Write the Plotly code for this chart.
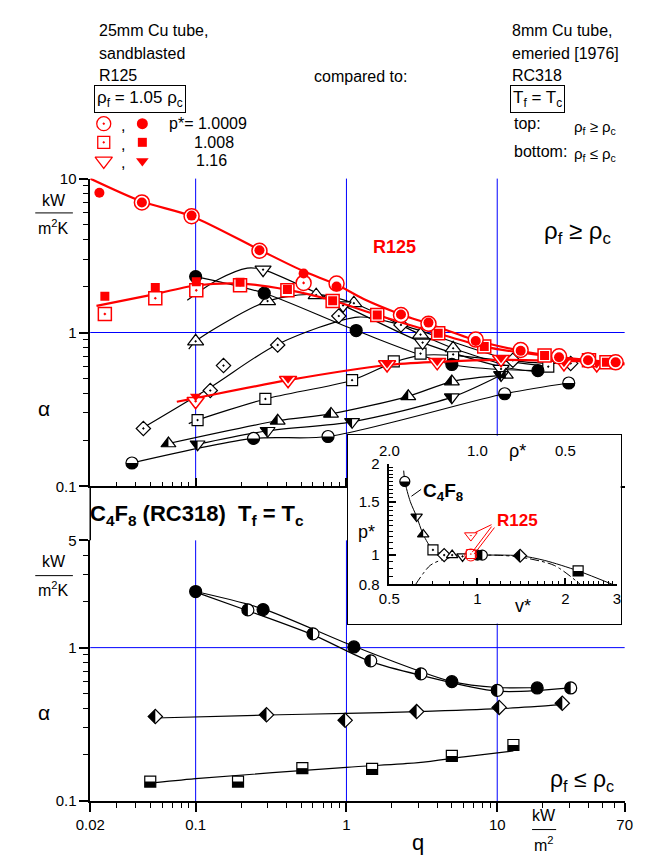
import numpy as np
import plotly.graph_objects as go

W, H = 651, 865
FONT = "Arial, Liberation Sans, sans-serif"
RED = "#ff0000"
BLUE = "#0000ff"

# ===================== DATA =====================
# ---- top panel (rho_f >= rho_c): q [kW/m2], alpha [kW/m2K] ----
# R125, p* = 1.0009 (circles)
r125_circ_q_open = [0.044, 0.094, 0.265, 0.52, 0.86, 2.3, 3.5, 7.2, 14.3, 25.7, 40, 61]
r125_circ_a_open = [7.0, 5.7, 3.4, 2.1, 2.08, 1.3, 1.14, 0.9, 0.77, 0.70, 0.66, 0.64]
r125_circ_q_full = [0.023, 0.044, 0.094, 0.265, 0.52, 0.86, 2.3, 3.5, 7.2, 14.3, 25.7, 40, 61]
r125_circ_a_full = [8.1, 7.0, 5.75, 3.42, 2.42, 1.99, 1.31, 1.16, 0.88, 0.76, 0.69, 0.66, 0.64]
r125_circ_fit_q = [0.02, 0.044, 0.094, 0.265, 0.52, 0.86, 1.3, 2.3, 3.5, 7.2, 14.3, 26, 70]
r125_circ_fit_a = [10, 7.1, 5.7, 3.45, 2.5, 2.05, 1.65, 1.31, 1.14, 0.89, 0.76, 0.69, 0.62]
# R125, p* = 1.008 (squares)
r125_sq_q = [0.025, 0.054, 0.101, 0.197, 0.406, 0.81, 1.6, 4.06, 8.2, 20.6, 40.6, 53]
r125_sq_a_open = [1.32, 1.67, 1.88, 2.03, 1.88, 1.60, 1.30, 0.99, 0.81, 0.71, 0.66, 0.64]
r125_sq_a_full = [1.72, 1.96, 2.14, 2.12, 1.90, 1.61, 1.30, 0.99, 0.81, 0.71, 0.66, 0.64]
r125_sq_fit_q = [0.022, 0.05, 0.1, 0.2, 0.4, 0.8, 1.6, 4.0, 8.2, 20, 70]
r125_sq_fit_a = [1.49, 1.75, 2.02, 2.08, 1.9, 1.62, 1.3, 0.99, 0.81, 0.71, 0.63]
# R125, p* = 1.16 (triangles down)
r125_tri_q = [0.1, 0.41, 1.86, 4.0, 10.6, 27.7, 45.7]
r125_tri_a_open = [0.358, 0.49, 0.62, 0.64, 0.67, 0.63, 0.62]
r125_tri_a_full = [0.385, 0.50, 0.63, 0.65, 0.68, 0.64, 0.63]
r125_tri_fit_q = [0.075, 0.1, 0.41, 1.86, 4.0, 10.6, 27.7, 60]
r125_tri_fit_a = [0.355, 0.375, 0.49, 0.615, 0.645, 0.665, 0.655, 0.645]

# C4F8 (RC318), top panel
c4_circ_q = [0.1, 0.285, 1.16, 5.0, 18.6]
c4_circ_a = [2.31, 1.80, 1.03, 0.62, 0.565]
c4_tdown_q = [0.28, 0.95, 3.2, 10.6]
c4_tdown_a = [2.56, 1.5, 0.86, 0.58]
c4_tdown_fit_q = [0.088, 0.14, 0.22, 0.28, 0.95, 3.2, 10.6, 20]
c4_tdown_fit_a = [1.62, 2.2, 2.62, 2.56, 1.5, 0.86, 0.6, 0.55]
c4_tup_q = [0.1, 0.3, 0.63, 1.12, 3.1, 5.1]
c4_tup_a = [0.877, 1.6, 1.75, 1.55, 0.97, 0.79]
c4_tup_fit_q = [0.09, 0.1, 0.3, 0.63, 1.12, 3.1, 5.1, 12]
c4_tup_fit_a = [0.78, 0.877, 1.6, 1.77, 1.55, 0.97, 0.79, 0.6]
c4_diam_q = [0.045, 0.125, 0.153, 0.35, 0.89, 2.3, 12.7, 30.7]
c4_diam_a = [0.238, 0.42, 0.61, 0.83, 1.28, 1.12, 0.66, 0.63]
c4_diam_fit_q = [0.042, 0.125, 0.35, 1.2, 2.3, 12.7, 30.7]
c4_diam_fit_a = [0.232, 0.44, 0.84, 1.26, 1.12, 0.66, 0.63]
c4_sq_q = [0.103, 0.29, 1.09, 2.06, 3.1, 5.1, 21.8]
c4_sq_a = [0.27, 0.37, 0.49, 0.65, 0.73, 0.72, 0.60]
c4_sq_fit_q = [0.09, 0.103, 0.29, 1.09, 2.06, 3.1, 5.1, 21.8]
c4_sq_fit_a = [0.256, 0.27, 0.37, 0.49, 0.64, 0.71, 0.71, 0.60]
c4_htup_q = [0.066, 0.35, 0.79, 2.57, 5.0, 11.4]
c4_htup_a = [0.19, 0.267, 0.296, 0.385, 0.48, 0.53]
c4_htdn_q = [0.103, 0.30, 1.09, 5.0, 10.6]
c4_htdn_a = [0.188, 0.23, 0.263, 0.38, 0.53]
c4_hcirc_q = [0.0378, 0.242, 0.755, 11.2, 29.8]
c4_hcirc_a = [0.142, 0.205, 0.211, 0.40, 0.47]

# ---- bottom panel (rho_f <= rho_c), C4F8 ----
b_circ_q = [0.1, 0.28, 1.12, 5.0, 18.4]
b_circ_a = [2.32, 1.77, 1.01, 0.60, 0.546]
b_circ_fit_q = [0.1, 0.28, 1.12, 5.0, 10, 18.4]
b_circ_fit_a = [2.32, 1.79, 1.02, 0.6, 0.55, 0.55]
b_hcirc_q = [0.222, 0.60, 1.45, 3.12, 10, 30.7]
b_hcirc_a = [1.76, 1.23, 0.82, 0.675, 0.527, 0.546]
b_hcirc_fit_q = [0.1, 0.222, 0.6, 1.45, 3.12, 10, 30.7]
b_hcirc_fit_a = [2.3, 1.74, 1.21, 0.81, 0.66, 0.52, 0.546]
b_hdiam_q = [0.054, 0.295, 0.98, 2.92, 10.3, 27]
b_hdiam_a = [0.356, 0.365, 0.336, 0.383, 0.408, 0.434]
b_hdiam_fit_q = [0.054, 0.3, 1.0, 3.0, 10.3, 27]
b_hdiam_fit_a = [0.348, 0.364, 0.373, 0.383, 0.40, 0.425]
b_hsq_q = [0.050, 0.191, 0.51, 1.48, 5.0, 12.8]
b_hsq_a = [0.134, 0.134, 0.164, 0.162, 0.197, 0.232]
b_hsq_fit_q = [0.048, 0.1, 1.0, 3.0, 6.0, 12.8]
b_hsq_fit_a = [0.130, 0.140, 0.166, 0.178, 0.194, 0.212]

# ---- inset: p* vs v* ----
inset_c4_v = [0.565, 0.62, 0.653, 0.705, 0.77, 0.82, 0.89, 1.0, 1.04, 1.4, 2.21]
inset_c4_p = [1.75, 1.34, 1.17, 1.04, 1.0, 1.0, 0.99, 1.0, 1.0, 0.995, 0.887]
inset_c4_state = ["half_circle_bottom", "half_tri_down", "half_tri_up", "square", "diamond",
                  "tri_up", "tri_down", "circle", "half_circle_left", "half_diamond", "half_square"]
inset_r125_v = [0.95, 0.95, 0.95]
inset_r125_p = [1.16, 1.008, 1.0009]
inset_c4_line_v = [0.56, 0.565, 0.59, 0.62, 0.653, 0.705, 0.77, 0.9, 1.0, 1.4, 1.7, 2.21, 2.9]
inset_c4_line_p = [1.9, 1.75, 1.5, 1.34, 1.17, 1.04, 1.005, 1.0, 1.0, 0.995, 0.96, 0.887, 0.8]
inset_dome_v = [0.615, 0.69, 0.77, 0.9, 1.0, 1.2, 1.4, 1.83, 2.25]
inset_dome_p = [0.8, 0.925, 0.97, 0.995, 1.0, 0.998, 0.985, 0.925, 0.8]

# tick labels / grid positions
q_ticks = [0.02, 0.1, 1, 10, 70]
q_ticklabels = ["0.02", "0.1", "1", "10", "70"]
q_grid = [0.1, 1, 10]
a_top_ticks = [0.1, 1, 10]
a_top_labels = ["0.1", "1", "10"]
a_bot_ticks = [0.1, 1, 5]
a_bot_labels = ["0.1", "1", "5"]
a_grid = [1]
v_ticks = [0.5, 1, 2, 3]
v_labels = ["0.5", "1", "2", "3"]
v_grid = [1, 2]
p_ticks = [0.8, 1, 1.5, 2]
p_labels = ["0.8", "1", "1.5", "2"]
p_grid = [1, 1.5]
rho_ticks = [2.0, 1.0, 0.5]
rho_labels = ["2.0", "1.0", "0.5"]

# ===================== HELPERS =====================
def X(px):
    return px / W


def Y(py):
    return 1 - py / H


fig = go.Figure()
shapes = []
annotations = []


def add_line(q, a, xa, ya, color="black", width=1.2, dash=None, smooth=True):
    fig.add_trace(go.Scatter(
        x=q, y=a, xaxis=xa, yaxis=ya, mode="lines", showlegend=False, hoverinfo="skip",
        line=dict(color=color, width=width, dash=dash,
                  shape="spline" if smooth else "linear", smoothing=0.8)))


def add_marks(q, a, xa, ya, symbol, size, fill, edge="black", lw=1.2):
    fig.add_trace(go.Scatter(
        x=q, y=a, xaxis=xa, yaxis=ya, mode="markers", showlegend=False, hoverinfo="skip",
        marker=dict(symbol=symbol, size=size, color=fill, line=dict(color=edge, width=lw))))


K = 0.5523


def half_path(kind, r):
    rt = r * 2 / np.sqrt(3)
    rd = 1.3 * r
    f = lambda v: f"{v:.2f}"
    if kind == "circle_bottom":
        return (f"M{f(-r)},0 C{f(-r)},{f(-K*r)} {f(-K*r)},{f(-r)} 0,{f(-r)} "
                f"C{f(K*r)},{f(-r)} {f(r)},{f(-K*r)} {f(r)},0 Z")
    if kind == "circle_left":
        return (f"M0,{f(r)} C{f(-K*r)},{f(r)} {f(-r)},{f(K*r)} {f(-r)},0 "
                f"C{f(-r)},{f(-K*r)} {f(-K*r)},{f(-r)} 0,{f(-r)} Z")
    if kind == "tri_up_left":
        return f"M0,{f(r)} L{f(-rt)},{f(-r/2)} L0,{f(-r/2)} Z"
    if kind == "tri_down_left":
        return f"M{f(-rt)},{f(r/2)} L0,{f(r/2)} L0,{f(-r)} Z"
    if kind == "diamond_left":
        return f"M0,{f(rd)} L{f(-rd)},0 L0,{f(-rd)} Z"
    if kind == "square_bottom":
        return f"M{f(-r)},0 L{f(r)},0 L{f(r)},{f(-r)} L{f(-r)},{f(-r)} Z"


HALF_BASE = {"circle_bottom": "circle", "circle_left": "circle", "tri_up_left": "triangle-up",
             "tri_down_left": "triangle-down", "diamond_left": "diamond", "square_bottom": "square"}


def add_half(q, a, xa, ya, kind, size):
    add_marks(q, a, xa, ya, HALF_BASE[kind], size, "white")
    for qq, aa in zip(q, a):
        shapes.append(dict(type="path", xref=xa, yref=ya, xsizemode="pixel", ysizemode="pixel",
                           xanchor=qq, yanchor=aa, path=half_path(kind, size / 2),
                           fillcolor="black", line=dict(width=0), layer="above"))


def grid(xa, ya, xvals, yvals):
    for v in xvals:
        shapes.append(dict(type="line", xref=xa, yref=ya + " domain", x0=v, x1=v, y0=0, y1=1,
                           line=dict(color=BLUE, width=1), layer="below"))
    for v in yvals:
        shapes.append(dict(type="line", xref=xa + " domain", yref=ya, x0=0, x1=1, y0=v, y1=v,
                           line=dict(color=BLUE, width=1), layer="below"))


def text(s, px, py, size=16, color="black", xanchor="center", bold=False, box=False):
    if bold:
        s = "<b>" + s + "</b>"
    d = dict(text=s, x=X(px), y=Y(py), xref="paper", yref="paper", showarrow=False,
             xanchor=xanchor, yanchor="middle", font=dict(family=FONT, size=size, color=color))
    if box:
        d.update(bordercolor="black", borderwidth=1, borderpad=2)
    annotations.append(d)


def pline(x0, y0, x1, y1, color="black", width=1):
    shapes.append(dict(type="line", xref="paper", yref="paper", x0=X(x0), y0=Y(y0),
                       x1=X(x1), y1=Y(y1), line=dict(color=color, width=width)))


# ===================== TOP PANEL =====================
grid("x", "y", q_grid, a_grid)
add_line(c4_circ_q, c4_circ_a, "x", "y")
add_line(c4_tdown_fit_q, c4_tdown_fit_a, "x", "y")
add_line(c4_tup_fit_q, c4_tup_fit_a, "x", "y")
add_line(c4_diam_fit_q, c4_diam_fit_a, "x", "y")
add_line(c4_sq_fit_q, c4_sq_fit_a, "x", "y")
add_line(c4_htup_q, c4_htup_a, "x", "y")
add_line(c4_htdn_q, c4_htdn_a, "x", "y")
add_line(c4_hcirc_q, c4_hcirc_a, "x", "y")
add_marks(c4_diam_q, c4_diam_a, "x", "y", "diamond-dot", 11, "white")
add_marks(c4_sq_q, c4_sq_a, "x", "y", "square-dot", 11, "white")
add_marks(c4_tup_q, c4_tup_a, "x", "y", "triangle-up-dot", 14, "white")
add_marks(c4_tdown_q, c4_tdown_a, "x", "y", "triangle-down-dot", 14, "white")
add_marks(c4_circ_q, c4_circ_a, "x", "y", "circle", 12, "black")
add_half(c4_htup_q, c4_htup_a, "x", "y", "tri_up_left", 13)
add_half(c4_htdn_q, c4_htdn_a, "x", "y", "tri_down_left", 13)
add_half(c4_hcirc_q, c4_hcirc_a, "x", "y", "circle_bottom", 12)

add_line(r125_tri_fit_q, r125_tri_fit_a, "x", "y", RED, 2.2)
add_line(r125_sq_fit_q, r125_sq_fit_a, "x", "y", RED, 2.2)
add_line(r125_circ_fit_q, r125_circ_fit_a, "x", "y", RED, 2.2)
add_marks(r125_tri_q, r125_tri_a_open, "x", "y", "triangle-down-dot", 15, "white", RED, 1.5)
add_marks(r125_tri_q, r125_tri_a_full, "x", "y", "triangle-down", 10, RED, RED, 0)
add_marks(r125_sq_q, r125_sq_a_open, "x", "y", "square-dot", 13, "white", RED, 1.5)
add_marks(r125_sq_q, r125_sq_a_full, "x", "y", "square", 9, RED, RED, 0)
add_marks(r125_circ_q_open, r125_circ_a_open, "x", "y", "circle-dot", 15, "white", RED, 1.5)
add_marks(r125_circ_q_full, r125_circ_a_full, "x", "y", "circle", 10, RED, RED, 0)

# ===================== BOTTOM PANEL =====================
grid("x2", "y2", q_grid, a_grid)
add_line(b_circ_fit_q, b_circ_fit_a, "x2", "y2")
add_line(b_hcirc_fit_q, b_hcirc_fit_a, "x2", "y2")
add_line(b_hdiam_fit_q, b_hdiam_fit_a, "x2", "y2")
add_line(b_hsq_fit_q, b_hsq_fit_a, "x2", "y2")
add_marks(b_circ_q, b_circ_a, "x2", "y2", "circle", 12, "black")
add_half(b_hcirc_q, b_hcirc_a, "x2", "y2", "circle_left", 12)
add_half(b_hdiam_q, b_hdiam_a, "x2", "y2", "diamond_left", 11)
add_half(b_hsq_q, b_hsq_a, "x2", "y2", "square_bottom", 11)

# ===================== INSET =====================
fig.add_trace(go.Scatter(x=[0, 1, 1, 0, 0], y=[0, 0, 1, 1, 0], xaxis="x3", yaxis="y3",
                         mode="lines", fill="toself", fillcolor="white",
                         line=dict(color="white", width=0), showlegend=False, hoverinfo="skip"))
add_line(inset_dome_v, inset_dome_p, "x4", "y4", "black", 1, "dashdot")
add_line(inset_c4_line_v, inset_c4_line_p, "x4", "y4", "black", 1)
STATE_SYMBOL = {"square": "square-dot", "diamond": "diamond-dot", "tri_up": "triangle-up-dot",
                "tri_down": "triangle-down-dot", "circle": "circle"}
HALF_STATE = {"half_circle_bottom": "circle_bottom", "half_tri_down": "tri_down_left",
              "half_tri_up": "tri_up_left", "half_circle_left": "circle_left",
              "half_diamond": "diamond_left", "half_square": "square_bottom"}
for v, p, st in zip(inset_c4_v, inset_c4_p, inset_c4_state):
    if st in HALF_STATE:
        add_half([v], [p], "x4", "y4", HALF_STATE[st], 10)
    else:
        add_marks([v], [p], "x4", "y4", STATE_SYMBOL[st], 10, "black" if st == "circle" else "white")
add_marks(inset_r125_v[:1], inset_r125_p[:1], "x4", "y4", "triangle-down-dot", 11, "white", RED, 1)
add_marks(inset_r125_v[1:2], inset_r125_p[1:2], "x4", "y4", "square-dot", 9, "white", RED, 1)
add_marks(inset_r125_v[2:], inset_r125_p[2:], "x4", "y4", "circle-open", 12, RED, RED, 1)

# ===================== HEADER LEGEND KEYS (figure-pixel axis) =====================
add_marks([92], [117], "x8", "y8", "circle-open-dot", 14, RED, RED, 1.3)
add_marks([132], [117], "x8", "y8", "circle", 11, RED, RED, 0)
add_marks([92], [136], "x8", "y8", "square-open-dot", 12, RED, RED, 1.3)
add_marks([132], [136], "x8", "y8", "square", 9, RED, RED, 0)
add_marks([92], [155], "x8", "y8", "triangle-down-open", 15, RED, RED, 1.3)
add_marks([132], [155], "x8", "y8", "triangle-down", 11, RED, RED, 0)

# ===================== TEXT =====================
text("25mm Cu tube,", 85, 22, xanchor="left")
text("sandblasted", 85, 45, xanchor="left")
text("R125", 85, 68, xanchor="left")
text("ρ<sub>f</sub> = 1.05 ρ<sub>c</sub>", 130, 92, size=17, box=True)
text(",", 112, 119)
text(",", 112, 138)
text(",", 112, 157)
text("p*= 1.0009", 158, 117, xanchor="left")
text("1.008", 183, 136, xanchor="left")
text("1.16", 186, 155, xanchor="left")
text("compared to:", 358, 69)
text("8mm Cu tube,", 513, 22, xanchor="left")
text("emeried [1976]", 513, 45, xanchor="left")
text("RC318", 513, 68, xanchor="left")
text("T<sub>f</sub> = T<sub>c</sub>", 542, 92, size=17, box=True)
text("top:", 515, 117, xanchor="left")
text("ρ<sub>f</sub> ≥ ρ<sub>c</sub>", 577, 121, size=15, xanchor="left")
text("bottom:", 515, 145, xanchor="left")
text("ρ<sub>f</sub> ≤ ρ<sub>c</sub>", 577, 148, size=15, xanchor="left")

text("kW", 40, 195, size=16)
pline(21, 208, 60, 208)
text("m<sup>2</sup>K", 40, 222, size=16)
text("α", 30, 408, size=21)
text("R125", 393, 243, size=18, color=RED, bold=True)
text("ρ<sub>f</sub> ≥ ρ<sub>c</sub>", 583, 228, size=24)

text("C<sub>4</sub>F<sub>8</sub> (RC318)  T<sub>f</sub> = T<sub>c</sub>", 76, 516, size=22,
     xanchor="left", bold=True)
pline(78, 487, 78, 542, width=1.5)

text("kW", 40, 564, size=16)
pline(21, 578, 60, 578)
text("m<sup>2</sup>K", 40, 592, size=16)
text("α", 30, 718, size=21)
text("ρ<sub>f</sub> ≤ ρ<sub>c</sub>", 588, 787, size=23)
text("q", 418, 850, size=22)
text("kW", 548, 823, size=16)
pline(536, 837, 561, 837)
text("m<sup>2</sup>", 548, 852, size=16)

text("C<sub>4</sub>F<sub>8</sub>", 421, 493, size=19, xanchor="left", bold=True)
text("R125", 521, 522, size=17, color=RED, bold=True)
text("p*", 364, 533, size=18)
text("v*", 527, 609, size=18)
text("ρ*", 521, 451, size=18)
pline(411, 497, 421, 490, width=1)
pline(494, 526, 477, 534, color=RED, width=1)
pline(494, 528, 474, 554, color=RED, width=1)
pline(497, 529, 476, 556, color=RED, width=1)
# rho* tick labels on the inset top axis (positioned through the inset v* axis)
for r, lab in zip(rho_ticks, rho_labels):
    annotations.append(dict(text=lab, x=float(np.log10(1 / r)), xref="x4", y=Y(450), yref="paper",
                            showarrow=False, xanchor="center", yanchor="middle",
                            font=dict(family=FONT, size=15, color="black")))

# ===================== AXES =====================
XR = [np.log10(0.02), np.log10(70)]
XD = [X(78), X(632)]


def decade_minor(lo, hi, majors):
    vals = []
    for e in range(-3, 3):
        for k in range(1, 10):
            v = round(k * 10 ** e, 6)
            if lo <= v <= hi and all(abs(v - m) > 1e-9 for m in majors):
                vals.append(v)
    return vals


q_minor = decade_minor(0.02, 70, q_ticks)
a_top_minor = decade_minor(0.1, 10, a_top_ticks)
a_bot_minor = decade_minor(0.1, 5, a_bot_ticks)
v_minor = [round(0.6 + 0.1 * i, 2) for i in range(4)] + \
          [round(1.1 + 0.1 * i, 2) for i in range(19) if abs(1.1 + 0.1 * i - 2) > 1e-6]
p_minor = [round(0.85 + 0.05 * i, 2) for i in range(23)]
p_minor = [v for v in p_minor if all(abs(v - m) > 1e-6 for m in p_ticks)]
rho_minor = [round(0.4 + 0.1 * i, 2) for i in range(16)]
rho_minor = [1 / r for r in rho_minor if all(abs(r - m) > 1e-6 for m in rho_ticks)]


def ax(**kw):
    d = dict(type="log", showline=True, linecolor="black", linewidth=1.5, zeroline=False,
             tickcolor="black", tickwidth=1.5, showgrid=False,
             tickfont=dict(family=FONT, size=15, color="black"))
    d.update(kw)
    return d


def minor(tv, direction, length=5):
    return dict(tickvals=tv, ticks=direction, ticklen=length, tickwidth=1.2,
                tickcolor="black", showgrid=False)


layout = dict(
    width=W, height=H, margin=dict(l=0, r=0, t=0, b=0),
    paper_bgcolor="white", plot_bgcolor="rgba(255,255,255,0)", showlegend=False,
    xaxis=ax(range=XR, domain=XD, anchor="y", tickvals=q_ticks, showticklabels=False,
             ticks="inside", ticklen=9, minor=minor(q_minor, "inside")),
    yaxis=ax(range=[-1, 1], domain=[Y(487), Y(173)], anchor="x", tickvals=a_top_ticks,
             ticktext=a_top_labels, ticks="outside", ticklen=9,
             minor=minor(a_top_minor, "outside")),
    xaxis5=ax(range=XR, anchor="y", overlaying="x", side="top", tickvals=q_ticks,
              showticklabels=False, ticks="inside", ticklen=9, minor=minor(q_minor, "inside")),
    yaxis5=ax(range=[-1, 1], anchor="x", overlaying="y", side="right", tickvals=a_top_ticks,
              showticklabels=False, ticks="inside", ticklen=9, minor=minor(a_top_minor, "inside")),
    xaxis2=ax(range=XR, domain=XD, anchor="y2", tickvals=q_ticks, ticktext=q_ticklabels,
              ticks="outside", ticklen=9, minor=minor(q_minor, "outside")),
    yaxis2=ax(range=[-1, np.log10(5)], domain=[Y(808), Y(542)], anchor="x2", tickvals=a_bot_ticks,
              ticktext=a_bot_labels, ticks="outside", ticklen=9,
              minor=minor(a_bot_minor, "outside")),
    xaxis6=ax(range=XR, anchor="y2", overlaying="x2", side="top", tickvals=q_ticks,
              showticklabels=False, ticks="inside", ticklen=9, minor=minor(q_minor, "inside")),
    yaxis6=ax(range=[-1, np.log10(5)], anchor="x2", overlaying="y2", side="right",
              tickvals=a_bot_ticks, showticklabels=False, ticks="inside", ticklen=9,
              minor=minor(a_bot_minor, "inside")),
    xaxis3=dict(range=[0, 1], domain=[X(345), X(628)], anchor="y3", showline=True, mirror=True,
                linecolor="black", linewidth=1, showgrid=False, zeroline=False,
                showticklabels=False, ticks=""),
    yaxis3=dict(range=[0, 1], domain=[Y(627), Y(435)], anchor="x3", showline=True, mirror=True,
                linecolor="black", linewidth=1, showgrid=False, zeroline=False,
                showticklabels=False, ticks=""),
    xaxis4=ax(range=[np.log10(0.5), np.log10(3)], domain=[X(388), X(624)], anchor="y4",
              tickvals=v_ticks, ticktext=v_labels, ticks="inside", ticklen=7,
              minor=minor(v_minor, "inside", 4)),
    yaxis4=ax(range=[np.log10(0.8), np.log10(2)], domain=[Y(587), Y(464)], anchor="x4",
              tickvals=p_ticks, ticktext=p_labels, ticks="inside", ticklen=7,
              ticklabelstandoff=5, minor=minor(p_minor, "inside", 4)),
    xaxis7=ax(range=[np.log10(0.5), np.log10(3)], anchor="y4", overlaying="x4", side="top",
              tickvals=[1 / r for r in rho_ticks], showticklabels=False, ticks="inside",
              ticklen=7, minor=minor(rho_minor, "inside", 4)),
    yaxis7=ax(range=[np.log10(0.8), np.log10(2)], anchor="x4", overlaying="y4", side="right",
              tickvals=p_ticks, showticklabels=False, ticks="inside", ticklen=7,
              minor=minor(p_minor, "inside", 4)),
    xaxis8=dict(domain=[0, 1], range=[0, W], visible=False, anchor="y8"),
    yaxis8=dict(domain=[0, 1], range=[H, 0], visible=False, anchor="x8"),
    shapes=shapes, annotations=annotations,
)
for v in v_grid:
    shapes.append(dict(type="line", xref="x4", yref="y4 domain", x0=v, x1=v, y0=0, y1=1,
                       line=dict(color=BLUE, width=1), layer="below"))
for v in p_grid:
    shapes.append(dict(type="line", xref="x4 domain", yref="y4", x0=0, x1=1, y0=v, y1=v,
                       line=dict(color=BLUE, width=1), layer="below"))
fig.update_layout(**layout)
fig.write_html("out.html")
